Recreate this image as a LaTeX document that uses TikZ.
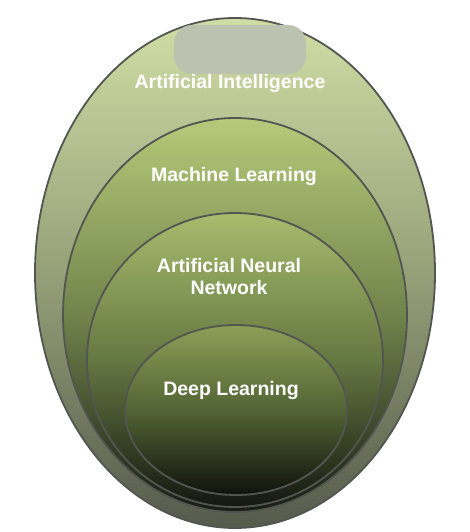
\documentclass[tikz,border=0pt]{standalone}
\usepackage{fontspec}
\setmainfont{Liberation Sans}
\usetikzlibrary{shapes.geometric}
\definecolor{aiTop}{RGB}{208,222,165}
\definecolor{aiMid}{RGB}{150,160,120}
\definecolor{aiBot}{RGB}{85,90,76}
\definecolor{mlTop}{RGB}{182,202,122}
\definecolor{mlMid}{RGB}{112,132,76}
\definecolor{mlBot}{RGB}{24,28,20}
\definecolor{annTop}{RGB}{168,188,110}
\definecolor{annMid}{RGB}{100,120,66}
\definecolor{annBot}{RGB}{20,23,16}
\definecolor{dlTop}{RGB}{140,160,88}
\definecolor{dlMid}{RGB}{82,100,52}
\definecolor{dlBot}{RGB}{16,18,13}
\definecolor{rim}{RGB}{82,86,80}
\definecolor{blob}{RGB}{188,194,176}
\tikzset{
  ring/.style={ellipse, draw=rim, line width=1.8pt, inner sep=0pt},
  lbl/.style={text=white, font=\bfseries\fontsize{19.5pt}{22pt}\selectfont, align=center, inner sep=0pt}
}
\begin{document}
\begin{tikzpicture}[x=1pt,y=-1pt]
\useasboundingbox (0,0) rectangle (470,532);
\node[ring, minimum width=400pt, minimum height=510pt, top color=aiTop, bottom color=aiBot, middle color=aiMid] (ai) at (235,273) {};
\fill[blob, rounded corners=18pt] (174,25) rectangle (306,74);
\node[ring, minimum width=344pt, minimum height=394pt, top color=mlTop, bottom color=mlBot, middle color=mlMid] (ml) at (235,315) {};
\node[ring, minimum width=296pt, minimum height=294pt, top color=annTop, bottom color=annBot, middle color=annMid] (ann) at (235,360) {};
\node[ring, minimum width=222pt, minimum height=170pt, top color=dlTop, bottom color=dlBot, middle color=dlMid] (dl) at (236,410) {};
\node[lbl] (tai) at (230,84) {Artificial Intelligence};
\node[lbl] (tml) at (234,177) {Machine Learning};
\node[lbl] (tann) at (229,277) {Artificial Neural\\Network};
\node[lbl] (tdl) at (231,390) {Deep Learning};
\end{tikzpicture}
\end{document}
